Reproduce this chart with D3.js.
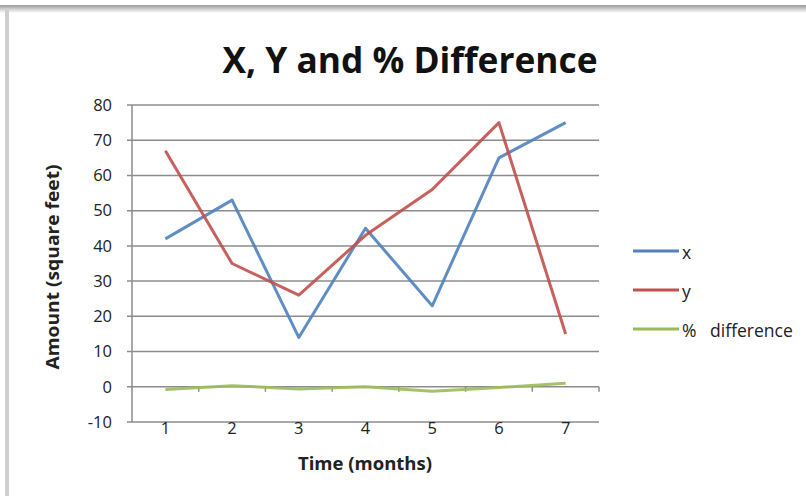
<!DOCTYPE html>
<html>
<head>
<meta charset="utf-8">
<script src="https://cdn.jsdelivr.net/npm/d3@7"></script>
<style>
  body { margin: 0; background: #fff; }
  text { font-family: "Open Sans", "Liberation Sans", sans-serif; fill: #222; }
</style>
</head>
<body>
<div class="chart"></div>
<script>
//Data
var months = [1, 2, 3, 4, 5, 6, 7];
var xValues = [42, 53, 14, 45, 23, 65, 75];
var yValues = [67, 35, 26, 43, 56, 75, 15];
var pctValues = [-0.8, 0.3, -0.6, 0, -1.3, -0.2, 1.0];
var yTicks = [-10, 0, 10, 20, 30, 40, 50, 60, 70, 80];
var seriesNames = ["x", "y", "% difference"];
var seriesColors = ["#4f81bd", "#c0504d", "#9bbb59"];

//Width and height
var w = 806;
var h = 498;

var svg = d3.select(".chart")
    .append("svg")
    .attr("width", w)
    .attr("height", h);

//Frame edges (top shadow and left edge)
var grad = svg.append("defs").append("linearGradient")
    .attr("id", "topShade")
    .attr("x1", 0).attr("y1", 0).attr("x2", 0).attr("y2", 1);
grad.append("stop").attr("offset", "0%").attr("stop-color", "#9a9a9a");
grad.append("stop").attr("offset", "100%").attr("stop-color", "#ffffff");
svg.append("rect")
    .attr("x", 0).attr("y", 5)
    .attr("width", w).attr("height", 8)
    .attr("fill", "url(#topShade)");
svg.append("rect")
    .attr("x", 5).attr("y", 8)
    .attr("width", 4).attr("height", 488)
    .attr("fill", "#cfcfcf");

//Scales
var xScale = d3.scaleBand()
    .domain(months)
    .range([132, 599]);

var yScale = d3.scaleLinear()
    .domain([-10, 80])
    .range([422, 105]);

var cx = d => xScale(d) + xScale.bandwidth() / 2;

//Gridlines
svg.append("g")
    .selectAll("line")
    .data(yTicks)
    .enter()
    .append("line")
    .attr("x1", 127)
    .attr("x2", 599)
    .attr("y1", d => yScale(d))
    .attr("y2", d => yScale(d))
    .attr("stroke", "#8c8c8c")
    .attr("stroke-width", 1.5);

//Y axis line and labels
svg.append("line")
    .attr("x1", 132).attr("x2", 132)
    .attr("y1", yScale(80)).attr("y2", yScale(-10))
    .attr("stroke", "#8c8c8c")
    .attr("stroke-width", 1.5);

svg.append("g")
    .selectAll("text")
    .data(yTicks)
    .enter()
    .append("text")
    .attr("x", 112)
    .attr("y", d => yScale(d))
    .attr("dy", "0.35em")
    .attr("text-anchor", "end")
    .style("font-size", "16.5px")
    .text(d => d);

//X axis crosses at zero, tick marks between categories
var xTicks = xScale.domain().map(d => xScale(d) + xScale.bandwidth());
svg.append("g")
    .selectAll("line")
    .data(xTicks)
    .enter()
    .append("line")
    .attr("x1", d => d)
    .attr("x2", d => d)
    .attr("y1", yScale(0))
    .attr("y2", yScale(0) + 5)
    .attr("stroke", "#8c8c8c")
    .attr("stroke-width", 1.5);

svg.append("g")
    .selectAll("text")
    .data(months)
    .enter()
    .append("text")
    .attr("x", d => cx(d))
    .attr("y", yScale(-10) + 6)
    .attr("dy", "0.35em")
    .attr("text-anchor", "middle")
    .style("font-size", "16.5px")
    .text(d => d);

//Series lines
var line = d3.line()
    .x((d, i) => cx(months[i]))
    .y(d => yScale(d));

[xValues, yValues, pctValues].forEach((vals, i) => {
    svg.append("path")
        .datum(vals)
        .attr("d", line)
        .attr("fill", "none")
        .attr("stroke", seriesColors[i])
        .attr("stroke-width", 3)
        .attr("stroke-linejoin", "round")
        .attr("opacity", 0.9);
});

//Title and axis titles
svg.append("text")
    .attr("x", 410)
    .attr("y", 73)
    .attr("text-anchor", "middle")
    .attr("textLength", 375)
    .attr("lengthAdjust", "spacingAndGlyphs")
    .style("font-size", "36px")
    .style("font-weight", "bold")
    .style("fill", "#111")
    .text("X, Y and % Difference");

svg.append("text")
    .attr("x", 365)
    .attr("y", 470)
    .attr("text-anchor", "middle")
    .attr("textLength", 134)
    .attr("lengthAdjust", "spacingAndGlyphs")
    .style("font-size", "18px")
    .style("font-weight", "bold")
    .text("Time (months)");

svg.append("text")
    .attr("transform", "translate(59, 267) rotate(-90)")
    .attr("text-anchor", "middle")
    .attr("textLength", 205)
    .attr("lengthAdjust", "spacingAndGlyphs")
    .style("font-size", "18px")
    .style("font-weight", "bold")
    .text("Amount (square feet)");

//Legend
var legend = svg.append("g")
    .selectAll("g")
    .data(seriesNames)
    .enter()
    .append("g")
    .attr("transform", (d, i) => "translate(633, " + (251 + i * 39) + ")");

legend.append("line")
    .attr("x1", 0).attr("x2", 46)
    .attr("stroke", (d, i) => seriesColors[i])
    .attr("stroke-width", 3);

legend.append("text")
    .attr("x", 49)
    .attr("dy", "0.45em")
    .style("font-size", "17.5px")
    .text(d => d.replace(" ", "\u00a0\u00a0 "));
</script>
</body>
</html>
